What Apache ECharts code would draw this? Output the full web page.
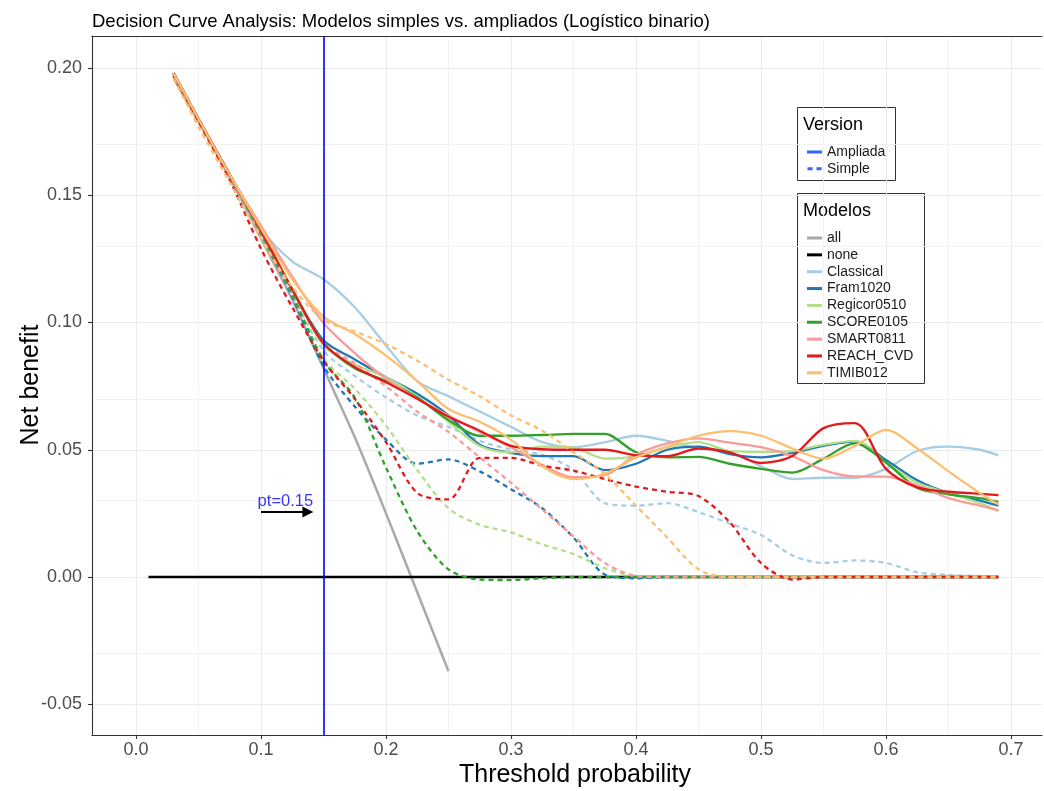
<!DOCTYPE html>
<html><head><meta charset="utf-8">
<script src="https://cdn.jsdelivr.net/npm/echarts@6/dist/echarts.min.js"></script>
<style>html,body{margin:0;padding:0;background:#fff}#c{width:1044px;height:791px}</style>
</head><body><div id="c"></div>
<script>
// ---------- data ----------
const thresholds = [0.03,0.05,0.075,0.1,0.125,0.15,0.175,0.2,0.225,0.25,0.275,0.3,0.325,0.35,0.375,0.4,0.425,0.45,0.475,0.5,0.525,0.55,0.575,0.6,0.625,0.65,0.675,0.69];

const allT  = [0.03,0.05,0.075,0.1,0.125,0.15,0.175,0.2,0.225,0.25];
const allNB = [0.196,0.179,0.157,0.133,0.109,0.082,0.055,0.025,-0.006,-0.037];
const noneT  = [0.01,0.69];
const noneNB = [0,0];

const models = ['Classical','Fram1020','Regicor0510','SCORE0105','SMART0811','REACH_CVD','TIMIB012'];

// Ampliada (solid)
const classicalAmp = [.198,.180,.158,.137,.124,.117,.106,.091,.077,.071,.065,.059,.053,.051,.053,.0555,.0535,.0505,.049,.0435,.0385,.039,.039,.0425,.0495,.0512,.050,.0478];
const framAmp      = [.198,.180,.158,.136,.113,.093,.0855,.0785,.072,.0635,.052,.0488,.0475,.0475,.042,.0445,.050,.0512,.0483,.047,.0488,.0515,.0533,.046,.038,.033,.030,.028];
const regicorAmp   = [.198,.180,.158,.136,.113,.091,.0835,.0785,.071,.061,.0515,.049,.0512,.0508,.0465,.0475,.051,.053,.0495,.0492,.0495,.052,.0535,.045,.037,.033,.029,.026];
const scoreAmp     = [.198,.180,.158,.136,.113,.092,.082,.077,.0705,.0617,.0555,.0555,.0558,.0562,.0562,.049,.047,.0472,.0445,.0425,.041,.0465,.0525,.045,.035,.0325,.031,.0295];
const smartAmp     = [.198,.180,.158,.138,.118,.0998,.088,.078,.070,.0635,.057,.051,.044,.0392,.040,.048,.0525,.0545,.0528,.051,.0475,.042,.0395,.0394,.036,.031,.028,.0262];
const reachAmp     = [.198,.180,.158,.136,.113,.0918,.0825,.0765,.070,.063,.0575,.0515,.0502,.050,.050,.0478,.0475,.0505,.049,.0448,.0475,.0585,.0605,.0425,.0352,.0335,.0327,.0322];
const timibAmp     = [.198,.180,.158,.137,.117,.1023,.0955,.087,.077,.066,.061,.054,.0435,.0385,.0405,.047,.0512,.0555,.0573,.0555,.0505,.0465,.0515,.0578,.0505,.0415,.033,.0285];

// Simple (dashed)
const classicalSim = [.197,.179,.157,.135,.111,.089,.079,.0705,.0635,.059,.0535,.050,.048,.042,.029,.028,.029,.0255,.021,.0165,.0085,.0055,.0065,.0055,.0018,.0008,.0004,0];
const framSim      = [.198,.180,.158,.135,.110,.083,.067,.054,.0445,.0462,.0415,.0345,.027,.0155,.001,-.0005,0,0,0,0,0,0,0,0,0,0,0,0];
const regicorSim   = [.198,.180,.158,.135,.111,.086,.074,.0595,.042,.027,.0205,.0175,.0128,.009,.0035,.0003,0,0,0,0,0,0,0,0,0,0,0,0];
const scoreSim     = [.198,.180,.158,.135,.111,.085,.0705,.043,.018,.003,-.001,-.0012,-.0005,0,0,0,0,0,0,0,0,0,0,0,0,0,0,0];
const smartSim     = [.198,.180,.158,.136,.113,.092,.084,.075,.065,.057,.047,.037,.0265,.016,.0055,.0005,0,0,0,0,0,0,0,0,0,0,0,0];
const reachSim     = [.197,.179,.156,.129,.106,.085,.070,.053,.033,.0305,.0468,.0468,.0438,.0418,.0385,.0355,.0335,.0318,.0215,.0055,-.001,0,0,0,0,0,0,0];
const timibSim     = [.196,.177,.155,.133,.114,.101,.0965,.0915,.085,.0775,.071,.0635,.0575,.049,.0405,.028,.0155,.003,0,0,0,0,0,0,0,0,0,0];

const xTicks = [0,0.1,0.2,0.3,0.4,0.5,0.6,0.7];
const yTicks = [-0.05,0,0.05,0.1,0.15,0.2];
const xMinor = [0.05,0.15,0.25,0.35,0.45,0.55,0.65];
const yMinor = [-0.025,0.025,0.075,0.125,0.175];
const ptValue = 0.15;
const ptArrow = [[0.1,0.0255],[0.1375,0.0255]];
const ptLabelPos = [0.1195,0.0295];

// ---------- styling ----------
const FONT = "'Liberation Sans', Arial, Helvetica, sans-serif";
const colors = {
  all:'#A9A9A9', none:'#000000',
  Classical:'#A6CEE3', Fram1020:'#1F78B4', Regicor0510:'#B2DF8A', SCORE0105:'#33A02C',
  SMART0811:'#FB9A99', REACH_CVD:'#E31A1C', TIMIB012:'#FDBF6F'
};
const ampValues = [classicalAmp, framAmp, regicorAmp, scoreAmp, smartAmp, reachAmp, timibAmp];
const simValues = [classicalSim, framSim, regicorSim, scoreSim, smartSim, reachSim, timibSim];
const DASH = [5,4];
const SOLID_ICON = 'path://M0,0H15V3H0Z';
const DASH_ICON = 'path://M0,0H5V3H0Z M9,0H14V3H9Z';

function lineSeries(name, ts, vs, color, dashed, width, smooth) {
  return {
    type:'line', name, data: ts.map((t,i)=>[t, vs[i]]),
    symbol:'none', showSymbol:false, smooth: smooth,
    lineStyle:{color, width, type: dashed ? DASH : 'solid', cap:'butt'},
    itemStyle:{color}, emphasis:{disabled:true}, silent:true, z:3
  };
}

const series = [];
series.push({
  type:'line', name:'_gridMajor', data:[], symbol:'none', silent:true, z:0,
  markLine:{silent:true, z:0, symbol:['none','none'], label:{show:false}, animation:false,
    lineStyle:{color:'#ebebeb', width:1.1, type:'solid'},
    data:[...xTicks.map(v=>({xAxis:v})), ...yTicks.map(v=>({yAxis:v}))]}
});
series.push({
  type:'line', name:'_gridMinor', data:[], symbol:'none', silent:true, z:0,
  markLine:{silent:true, z:0, symbol:['none','none'], label:{show:false}, animation:false,
    lineStyle:{color:'#f0f0f0', width:0.9, type:'solid'},
    data:[...xMinor.map(v=>({xAxis:v})), ...yMinor.map(v=>({yAxis:v}))]}
});

series.push(lineSeries('all', allT, allNB, colors.all, false, 2.5, 0.2));
series.push(lineSeries('none', noneT, noneNB, colors.none, false, 2.6, false));
models.forEach((m, k) => {
  series.push(lineSeries(m, thresholds, ampValues[k], colors[m], false, 2.3, 0.3));
  series.push(lineSeries(m, thresholds, simValues[k], colors[m], true, 2.3, 0.3));
});
series.push({type:'line', name:'Ampliada', data:[], symbol:'none', lineStyle:{color:'#3366FF', width:2.3}, itemStyle:{color:'#3366FF'}});
series.push({type:'line', name:'Simple', data:[], symbol:'none', lineStyle:{color:'#3366FF', width:2.3, type:DASH}, itemStyle:{color:'#3366FF'}});

series.push({
  type:'line', name:'_pt', data:[], symbol:'none', silent:true, z:6,
  markLine:{silent:true, z:6, animation:false, symbol:['none','none'], label:{show:false},
    lineStyle:{color:'#0000FF', width:1.6, type:'solid'},
    data:[{xAxis:ptValue}]}
});
series.push({
  type:'line', name:'_arrow', data:[], symbol:'none', silent:true, z:6,
  markLine:{silent:true, z:6, animation:false, symbol:['none','triangle'], symbolSize:11, label:{show:false},
    lineStyle:{color:'#000000', width:2, type:'solid'}, itemStyle:{color:'#000000'},
    data:[[{coord:ptArrow[0]},{coord:ptArrow[1]}]]}
});
series.push({
  type:'scatter', name:'_ptlabel', data:[ptLabelPos], symbolSize:0, silent:true, z:6,
  label:{show:true, position:'inside', formatter:'pt=0.15', color:'#0000FF', fontSize:16.5, fontFamily:FONT}
});

const legendCommon = {
  orient:'vertical', itemWidth:15, itemHeight:3, selectedMode:false,
  textStyle:{fontSize:14, fontFamily:FONT, color:'#1a1a1a', lineHeight:14}
};
const versionItems = [{name:'Ampliada', icon:SOLID_ICON}, {name:'Simple', icon:DASH_ICON}];
const modelItems = ['all','none', ...models].map(n=>({name:n, icon:SOLID_ICON}));

const option = {
  animation:false,
  backgroundColor:'#ffffff',
  grid:{left:92, top:36, right:2, bottom:56, containLabel:false},
  xAxis:[{
    type:'value', min:-0.0352, max:0.7248, position:'bottom',
    axisLine:{show:true, onZero:false, lineStyle:{color:'#333333', width:1.1}},
    axisTick:{show:true, length:4, customValues:xTicks, lineStyle:{color:'#333333', width:1.1}},
    axisLabel:{show:true, customValues:xTicks, formatter:v=>Number(v).toFixed(1), color:'#4d4d4d', fontSize:18, fontFamily:FONT, margin:6},
    splitLine:{show:false}
  },{
    type:'value', min:-0.0352, max:0.7248, position:'top',
    axisLine:{show:true, onZero:false, lineStyle:{color:'#333333', width:1.1}},
    axisTick:{show:false}, axisLabel:{show:false}, splitLine:{show:false}
  }],
  yAxis:{
    type:'value', min:-0.0621, max:0.2126,
    axisLine:{show:true, onZero:false, lineStyle:{color:'#333333', width:1.1}},
    axisTick:{show:true, length:4, customValues:yTicks, lineStyle:{color:'#333333', width:1.1}},
    axisLabel:{show:true, customValues:yTicks, formatter:v=>Number(v).toFixed(2), color:'#4d4d4d', fontSize:18, fontFamily:FONT, margin:10},
    splitLine:{show:false}
  },
  legend:[
    Object.assign({}, legendCommon, {left:802, top:140, itemGap:2.7, data:versionItems, itemStyle:{color:'#3366FF'}}),
    Object.assign({}, legendCommon, {left:802, top:226, itemGap:2.85, data:modelItems})
  ],
  graphic:[
    {type:'text', left:92, top:12, style:{text:'Decision Curve Analysis: Modelos simples vs. ampliados (Logístico binario)', font:'18.5px '+FONT, fill:'#000'}},
    {type:'text', x:575, y:775, style:{text:'Threshold probability', font:'25px '+FONT, fill:'#000', textAlign:'center', textVerticalAlign:'middle'}},
    {type:'text', x:31, y:385, rotation:Math.PI/2, style:{text:'Net benefit', font:'25px '+FONT, fill:'#000', textAlign:'center', textVerticalAlign:'middle'}},
    {type:'rect', shape:{x:797.5, y:107.5, width:98, height:73}, style:{fill:'#fff', stroke:'#333', lineWidth:1}, z:-1},
    {type:'text', x:803, y:125, style:{text:'Version', font:'18px '+FONT, fill:'#000', textVerticalAlign:'middle'}},
    {type:'rect', shape:{x:797.5, y:193.5, width:127, height:190}, style:{fill:'#fff', stroke:'#333', lineWidth:1}, z:-1},
    {type:'text', x:803, y:211, style:{text:'Modelos', font:'18px '+FONT, fill:'#000', textVerticalAlign:'middle'}}
  ],
  series
};

const chart = echarts.init(document.getElementById('c'), null, {renderer:'canvas'});
chart.setOption(option);
</script>
</body></html>
